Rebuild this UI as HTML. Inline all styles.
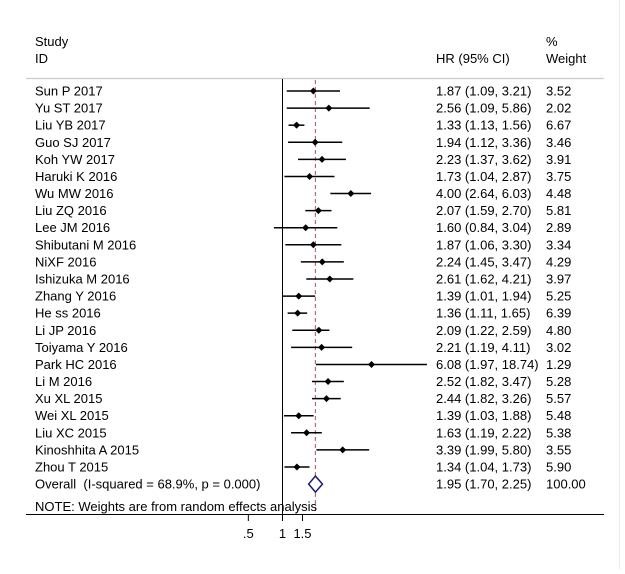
<!DOCTYPE html>
<html><head><meta charset="utf-8"><style>
body{margin:0;background:#fff}
svg text{font-family:"Liberation Sans",Arial,sans-serif;font-size:13px;fill:#000}
</style></head><body>
<svg id="c" width="625" height="569">
<rect x="0" y="0" width="625" height="569" fill="#fff"/>
<line x1="619.5" y1="0" x2="619.5" y2="569" stroke="#e8eef0"/>
<text x="35" y="46">Study</text>
<text x="35" y="63">ID</text>
<text x="436" y="63">HR (95% CI)</text>
<text x="546" y="46">%</text>
<text x="546" y="63">Weight</text>
<line x1="26" y1="78.5" x2="604" y2="78.5" stroke="#ccc" stroke-width="1.2"/>
<line x1="26" y1="514.5" x2="604" y2="514.5" stroke="#000" stroke-width="1"/>
<g id="marks"></g>
<text x="35" y="511">NOTE: Weights are from random effects analysis</text>
</svg>
<script>
const studies=["Sun P 2017","Yu ST 2017","Liu YB 2017","Guo SJ 2017","Koh YW 2017","Haruki K 2016","Wu MW 2016","Liu ZQ 2016","Lee JM 2016","Shibutani M 2016","NiXF 2016","Ishizuka M 2016","Zhang Y 2016","He ss 2016","Li JP 2016","Toiyama Y 2016","Park HC 2016","Li M 2016","Xu XL 2015","Wei XL 2015","Liu XC 2015","Kinoshhita A 2015","Zhou T 2015"];
const hr=[1.87,2.56,1.33,1.94,2.23,1.73,4.00,2.07,1.60,1.87,2.24,2.61,1.39,1.36,2.09,2.21,6.08,2.52,2.44,1.39,1.63,3.39,1.34];
const lo=[1.09,1.09,1.13,1.12,1.37,1.04,2.64,1.59,0.84,1.06,1.45,1.62,1.01,1.11,1.22,1.19,1.97,1.82,1.82,1.03,1.19,1.99,1.04];
const hi=[3.21,5.86,1.56,3.36,3.62,2.87,6.03,2.70,3.04,3.30,3.47,4.21,1.94,1.65,2.59,4.11,18.74,3.47,3.26,1.88,2.22,5.80,1.73];
const weights=["3.52","2.02","6.67","3.46","3.91","3.75","4.48","5.81","2.89","3.34","4.29","3.97","5.25","6.39","4.80","3.02","1.29","5.28","5.57","5.48","5.38","3.55","5.90"];
const overall=[1.95,1.70,2.25];
const ticks=[0.5,1,1.5];
const tickLabels=[".5","1","1.5"];
const NS="http://www.w3.org/2000/svg";
const g=document.getElementById('marks');
const X=v=>282.5+Math.log(v)*49.3;
const Y=i=>91+i*17.09;
const f=v=>v.toFixed(2);
function mk(t,a){const e=document.createElementNS(NS,t);for(const k in a)e.setAttribute(k,a[k]);g.appendChild(e);return e;}
let e=mk('line',{x1:X(1),y1:79,x2:X(1),y2:514,stroke:'#000','stroke-width':1});


e=mk('line',{x1:X(overall[0]),y1:80,x2:X(overall[0]),y2:514,stroke:'#b86a7a','stroke-width':1.2,'stroke-dasharray':'4,3'});


studies.forEach((s,i)=>{
 const y=Y(i);
 let t=mk('text',{x:35,y:y+4.5});t.textContent=s;
 
 
 t=mk('text',{x:436,y:y+4.5});t.textContent=f(hr[i])+" ("+f(lo[i])+", "+f(hi[i])+")";
 
 
 t=mk('text',{x:546,y:y+4.5});t.textContent=weights[i];
 
 
 const l=mk('line',{x1:X(lo[i]),y1:y,x2:X(hi[i]),y2:y,stroke:'#000','stroke-width':1.5});
 
 
 const cx=X(hr[i]);
 const d=mk('polygon',{points:`${cx-3.5},${y} ${cx},${y-3.5} ${cx+3.5},${y} ${cx},${y+3.5}`,fill:'#000'});
 
 
});
const oy=Y(studies.length);
let t=mk('text',{x:35,y:oy+4.5});t.textContent="Overall\u00a0 (I-squared = 68.9%, p = 0.000)";


t=mk('text',{x:436,y:oy+4.5});t.textContent=f(overall[0])+" ("+f(overall[1])+", "+f(overall[2])+")";


t=mk('text',{x:546,y:oy+4.5});t.textContent="100.00";


const dm=mk('polygon',{points:`${X(overall[1])},${oy} ${X(overall[0])},${oy-8} ${X(overall[2])},${oy} ${X(overall[0])},${oy+8}`,fill:'#fff',stroke:'#1a1a6e','stroke-width':1.5});


ticks.forEach((v,i)=>{
 const tl=mk('line',{x1:X(v),y1:514,x2:X(v),y2:521,stroke:'#000'});
 
 
 const tx=mk('text',{x:X(v),y:538,'text-anchor':'middle'});tx.textContent=tickLabels[i];
 
 
});
</script>
</body></html>
